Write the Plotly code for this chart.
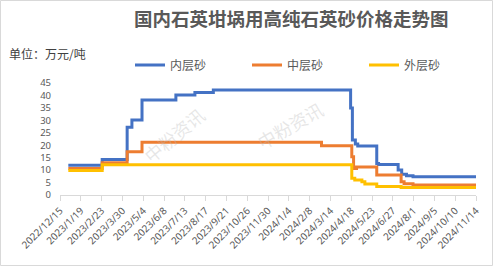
import plotly.graph_objects as go
import pandas as pd

# ---- data (万元/吨), step change points ----
inner_dates = ["2022-12-29", "2023-02-24", "2023-04-07", "2023-04-15", "2023-05-02",
               "2023-06-28", "2023-07-30", "2023-08-30", "2024-04-17", "2024-04-20",
               "2024-04-25", "2024-04-29", "2024-05-31", "2024-06-03", "2024-07-06",
               "2024-07-12", "2024-07-20", "2024-07-31", "2024-11-14"]
inner_vals = [12.0, 14.3, 27.2, 30.1, 38.2,
              40.2, 41.2, 42.2, 35.0, 22.1,
              20.5, 19.7, 12.7, 12.3, 10.0,
              8.3, 7.7, 7.3, 7.3]

middle_dates = ["2022-12-29", "2023-02-24", "2023-04-07", "2023-05-02", "2024-02-28",
                "2024-04-19", "2024-04-22", "2024-04-27", "2024-05-31", "2024-07-11",
                "2024-07-16", "2024-07-31", "2024-11-14"]
middle_vals = [10.6, 13.0, 17.4, 21.2, 19.8,
               15.4, 10.6, 11.2, 8.0, 5.3,
               4.5, 4.0, 4.0]

outer_dates = ["2022-12-29", "2023-02-24", "2024-04-19", "2024-04-24", "2024-05-06",
               "2024-05-11", "2024-05-31", "2024-07-11", "2024-11-14"]
outer_vals = [9.8, 12.2, 6.7, 6.0, 5.3,
              4.4, 3.4, 3.0, 3.0]

series_names = ["内层砂", "中层砂", "外层砂"]
series_colors = ["#4472C4", "#ED7D31", "#FFC000"]

tick_dates = pd.date_range("2022-12-15", "2024-11-14", freq="35D")
tick_labels = [f"{d.year}/{d.month}/{d.day}" for d in tick_dates]

fig = go.Figure()
for name, color, xs, ys in zip(series_names, series_colors,
                               [inner_dates, middle_dates, outer_dates],
                               [inner_vals, middle_vals, outer_vals]):
    fig.add_trace(go.Scatter(x=pd.to_datetime(xs), y=ys, mode="lines", name=name,
                             line=dict(color=color, width=3, shape="hv")))

W, H = 493, 266
L, R, T, B = 60, 17, 83, 71
pw, ph = W - L - R, H - T - B

def px(x):
    return (x - L) / pw

def py(y):
    return (H - B - y) / ph

wm_font = dict(size=18, color="rgba(185,185,185,0.35)", family="Noto Sans CJK SC")

fig.update_layout(
    width=W, height=H,
    margin=dict(l=L, r=R, t=T, b=B),
    paper_bgcolor="white", plot_bgcolor="white",
    font=dict(family="Noto Sans CJK SC, Noto Sans, sans-serif", color="#595959"),
    showlegend=True,
    legend=dict(orientation="h", x=px(130), y=py(65), xanchor="left", yanchor="middle",
                entrywidth=72, entrywidthmode="pixels",
                font=dict(size=12, color="#595959"), bgcolor="rgba(0,0,0,0)",
                itemwidth=30, tracegroupgap=0),
    xaxis=dict(
        type="date",
        range=[tick_dates[0], tick_dates[-1]],
        tickvals=tick_dates, ticktext=tick_labels,
        tickangle=-45, tickfont=dict(size=10, color="#595959", family="Noto Sans, sans-serif"),
        showgrid=False, showline=True, linecolor="#D9D9D9", linewidth=1,
        ticks="outside", ticklen=5, tickcolor="#D9D9D9", zeroline=False,
    ),
    yaxis=dict(
        range=[0, 45], tickvals=list(range(0, 50, 5)),
        tickfont=dict(size=9.5, color="#595959", family="Noto Sans, sans-serif"),
        showgrid=False, showline=False, zeroline=False, ticks="",
        ticklabelstandoff=8,
    ),
    shapes=[dict(type="rect", xref="paper", yref="paper",
                 x0=px(0.5), x1=px(W - 0.5), y0=py(H - 0.5), y1=py(0.5),
                 line=dict(color="#D9D9D9", width=1), layer="below")],
    annotations=[
        dict(text="<b>国内石英坩埚用高纯石英砂价格走势图</b>", xref="paper", yref="paper",
             x=px(291), y=py(18), xanchor="center", yanchor="middle", showarrow=False,
             font=dict(size=18.5, color="#595959", family="Noto Sans CJK SC")),
        dict(text="单位：万元/吨", xref="paper", yref="paper",
             x=px(7), y=py(53), xanchor="left", yanchor="middle", showarrow=False,
             font=dict(size=12, color="#404040", family="Noto Sans CJK SC")),
        dict(text="中粉资讯", xref="paper", yref="paper", x=px(135), y=py(135),
             textangle=-40, showarrow=False, font=wm_font),
        dict(text="中粉资讯", xref="paper", yref="paper", x=px(290), y=py(125),
             textangle=-30, showarrow=False, font=wm_font),
    ],
)

fig.write_html("out.html")
